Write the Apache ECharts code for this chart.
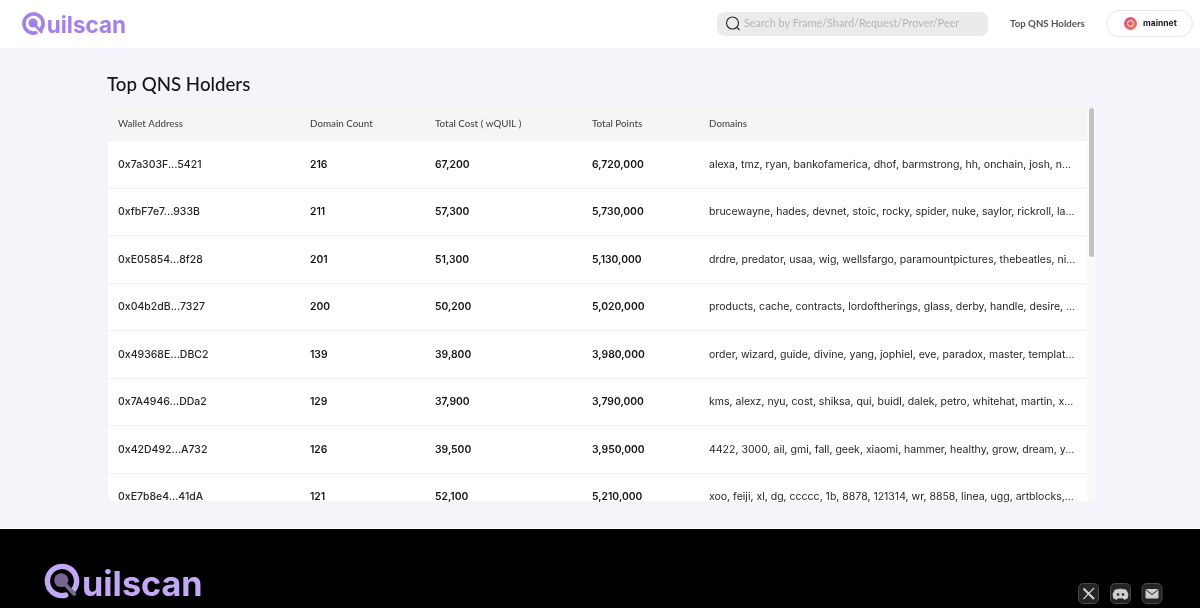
<!DOCTYPE html>
<html>
<head>
<meta charset="utf-8">
<style>html,body{margin:0;padding:0;background:#f4f4fa}#main{width:1200px;height:608px}</style>
<script src="https://cdn.jsdelivr.net/npm/echarts@6/dist/echarts.min.js"></script>
</head>
<body>
<div id="main"></div>
<script>
// table data
var columnNames = ['Wallet Address', 'Domain Count', 'Total Cost ( wQUIL )', 'Total Points', 'Domains'];
var wallets = ['0x7a303F...5421', '0xfbF7e7...933B', '0xE05854...8f28', '0x04b2dB...7327', '0x49368E...DBC2', '0x7A4946...DDa2', '0x42D492...A732', '0xE7b8e4...41dA'];
var domainCounts = [216, 211, 201, 200, 139, 129, 126, 121];
var totalCosts = [67200, 57300, 51300, 50200, 39800, 37900, 39500, 52100];
var totalPoints = [6720000, 5730000, 5130000, 5020000, 3980000, 3790000, 3950000, 5210000];
var domains = [
  'alexa, tmz, ryan, bankofamerica, dhof, barmstrong, hh, onchain, josh, n...',
  'brucewayne, hades, devnet, stoic, rocky, spider, nuke, saylor, rickroll, la...',
  'drdre, predator, usaa, wig, wellsfargo, paramountpictures, thebeatles, ni...',
  'products, cache, contracts, lordoftherings, glass, derby, handle, desire, ...',
  'order, wizard, guide, divine, yang, jophiel, eve, paradox, master, templat...',
  'kms, alexz, nyu, cost, shiksa, qui, buidl, dalek, petro, whitehat, martin, x...',
  '4422, 3000, ail, gmi, fall, geek, xiaomi, hammer, healthy, grow, dream, y...',
  'xoo, feiji, xl, dg, ccccc, 1b, 8878, 121314, wr, 8858, linea, ugg, artblocks,...'
];

// where each column starts on the x axis (axis runs 0-980 across the table)
var columnStart = [11, 203, 328, 485, 602];

function fmt(n) { return n.toLocaleString('en-US'); }

var cells = [];
wallets.forEach(function (w, r) {
  [w, fmt(domainCounts[r]), fmt(totalCosts[r]), fmt(totalPoints[r]), domains[r]].forEach(function (t, c) {
    cells.push([columnStart[c], r, t, c]);
  });
});

var headFont = 'Lato, sans-serif';
var bodyFont = 'Inter, sans-serif';

function renderCell(params, api) {
  var p = api.coord([api.value(0), api.value(1)]);
  var c = api.value(3);
  var font = c === 4 ? '400 10.53px ' : c === 0 ? '500 10.5px ' : '600 10.35px ';
  return {
    type: 'text',
    style: {
      x: p[0], y: p[1] + 0.5,
      text: cells[params.dataIndex][2],
      fill: c === 0 || c === 4 ? '#262626' : '#141414',
      font: font + bodyFont,
      verticalAlign: 'middle', align: 'left'
    }
  };
}

// logo: ring + ball + wordmark
function logo(x, y, k, ringColor, ballColor) {
  return [
    { type: 'arc', z: 60, shape: { cx: x, cy: y, r: 9.6 * k, startAngle: Math.PI * 0.42, endAngle: Math.PI * 0.2 },
      style: { stroke: ringColor, lineWidth: 3.6 * k, fill: null, lineCap: 'round' } },
    { type: 'circle', z: 60, shape: { cx: x - 0.5 * k, cy: y - 0.5 * k, r: 4.6 * k }, style: { fill: ballColor } },
    { type: 'line', z: 60, shape: { x1: x, y1: y, x2: x + 8 * k, y2: y + 8.5 * k },
      style: { stroke: ballColor, lineWidth: 2.6 * k, lineCap: 'round' } },
    { type: 'text', z: 60, style: { x: x + 13.2 * k, y: y + 3.2 * k, text: 'uilscan', fill: ringColor,
      font: '700 ' + (22.5 * k) + 'px Inter, sans-serif', verticalAlign: 'middle' } }
  ];
}

function iconBox(x) {
  return { type: 'rect', z: 60, shape: { x: x, y: 583.5, width: 20, height: 20, r: 5 }, style: { fill: '#242424', stroke: '#4a4a4a', lineWidth: 1 } };
}

var glyph = '#cfcfcf';
var chrome = [
  // page bands
  { type: 'rect', z: -5, shape: { x: 0, y: 0, width: 1200, height: 48 }, style: { fill: '#ffffff' } },
  // table card
  { type: 'rect', z: -4, shape: { x: 107, y: 107, width: 989, height: 395, r: 7 }, style: { fill: '#ffffff', stroke: '#eeeef3', lineWidth: 1 } },
  { type: 'rect', z: -3, shape: { x: 107.5, y: 107.5, width: 979.5, height: 33, r: [7, 0, 0, 0] }, style: { fill: '#f5f5f5' } },
  { type: 'rect', z: -3, shape: { x: 1087, y: 108, width: 8.5, height: 393 }, style: { fill: '#fafafa' } },
  { type: 'rect', z: 40, shape: { x: 1089, y: 108, width: 5, height: 149, r: 2.5 }, style: { fill: '#c2c2c2' } },
  // cut the last row off where the card ends
  { type: 'rect', z: 30, shape: { x: 107, y: 502.5, width: 989, height: 26 }, style: { fill: '#f4f4fa' } },
  // footer
  { type: 'rect', z: 50, shape: { x: 0, y: 528, width: 1200, height: 1 }, style: { fill: '#ffffff' } },
  { type: 'rect', z: 50, shape: { x: 0, y: 529, width: 1200, height: 79 }, style: { fill: '#000000' } },
  // title
  { type: 'text', z: 60, style: { x: 107, y: 84.5, text: 'Top QNS Holders', fill: '#151515', font: '500 18.7px ' + headFont, verticalAlign: 'middle' } },
  // search
  { type: 'rect', z: 60, shape: { x: 717, y: 12, width: 271, height: 24, r: 8 }, style: { fill: '#ebebeb' } },
  { type: 'circle', z: 60, shape: { cx: 732.5, cy: 23, r: 6 }, style: { fill: null, stroke: '#2a2a2a', lineWidth: 1.1 } },
  { type: 'line', z: 60, shape: { x1: 737, y1: 27.5, x2: 739.5, y2: 30 }, style: { stroke: '#2a2a2a', lineWidth: 1.1 } },
  { type: 'text', z: 60, style: { x: 744, y: 23.5, text: 'Search by Frame/Shard/Request/Prover/Peer', fill: '#b4b4b4', font: '400 10.8px ' + headFont, verticalAlign: 'middle' } },
  { type: 'text', z: 60, style: { x: 1010, y: 23.5, text: 'Top QNS Holders', fill: '#555555', font: '700 9.7px ' + headFont, verticalAlign: 'middle' } },
  // network button
  { type: 'rect', z: 60, shape: { x: 1106.5, y: 10.5, width: 86, height: 26, r: 13 }, style: { fill: '#ffffff', stroke: '#e6e6e6', lineWidth: 1 } },
  { type: 'circle', z: 60, shape: { cx: 1130.5, cy: 23.5, r: 6.5 }, style: {
    fill: new echarts.graphic.LinearGradient(0, 0, 1, 1, [{ offset: 0, color: '#e0408f' }, { offset: 1, color: '#f27f36' }]) } },
  { type: 'circle', z: 60, shape: { cx: 1130.5, cy: 23.5, r: 3 }, style: { fill: null, stroke: '#ffffff', lineWidth: 1 } },
  { type: 'text', z: 60, style: { x: 1143, y: 23.5, text: 'mainnet', fill: '#1c1c1c', font: '700 8.5px ' + bodyFont, verticalAlign: 'middle' } },
  // footer icons
  iconBox(1078.5), iconBox(1110.5), iconBox(1142),
  { type: 'line', z: 61, shape: { x1: 1083.5, y1: 588.5, x2: 1094, y2: 599 }, style: { stroke: glyph, lineWidth: 2.2 } },
  { type: 'line', z: 61, shape: { x1: 1094, y1: 588, x2: 1083.5, y2: 599 }, style: { stroke: glyph, lineWidth: 1.1 } },
  { type: 'polygon', z: 61, shape: { points: [[1115, 590], [1120.5, 589], [1126, 590], [1128, 594], [1127.5, 598], [1124.5, 599.5], [1123, 598], [1118, 598], [1116.5, 599.5], [1113.5, 598], [1113, 594]] }, style: { fill: glyph, stroke: glyph, lineWidth: 0.8, lineJoin: 'round' } },
  { type: 'circle', z: 62, shape: { cx: 1118, cy: 594.5, r: 1.3 }, style: { fill: '#242424' } },
  { type: 'circle', z: 62, shape: { cx: 1123, cy: 594.5, r: 1.3 }, style: { fill: '#242424' } },
  { type: 'rect', z: 61, shape: { x: 1145.5, y: 589, width: 13, height: 9.5, r: 1 }, style: { fill: glyph } },
  { type: 'polyline', z: 62, shape: { points: [[1145.5, 589.5], [1152, 594.5], [1158.5, 589.5]] }, style: { fill: null, stroke: '#242424', lineWidth: 1 } }
].concat(
  logo(33.5, 23.5, 1, '#a37ff0', '#a37ff0'),
  logo(62, 581, 1.52, '#c3a8f8', '#77668f')
);

var myChart = echarts.init(document.getElementById('main'));
myChart.setOption({
  backgroundColor: '#f4f4fa',
  animation: false,
  graphic: { elements: chrome },
  grid: { left: 107, top: 140.5, width: 980, height: 380 },
  xAxis: {
    type: 'value', position: 'top', min: 0, max: 980,
    axisLine: { show: false }, axisTick: { show: false }, splitLine: { show: false },
    axisLabel: {
      customValues: columnStart, margin: 11.5, align: 'left',
      color: '#4a4a4a', fontFamily: headFont, fontSize: 9.8, fontWeight: 500,
      formatter: function (v) { return columnNames[columnStart.indexOf(v)]; }
    }
  },
  yAxis: {
    type: 'category', inverse: true, data: wallets,
    axisLine: { show: false }, axisTick: { show: false }, axisLabel: { show: false },
    splitLine: { show: true, interval: 0, lineStyle: { color: '#f2f2f5', width: 1 } }
  },
  series: [{
    type: 'custom', clip: false, silent: true,
    encode: { x: 0, y: 1 },
    data: cells, renderItem: renderCell
  }]
});
</script>
</body>
</html>
